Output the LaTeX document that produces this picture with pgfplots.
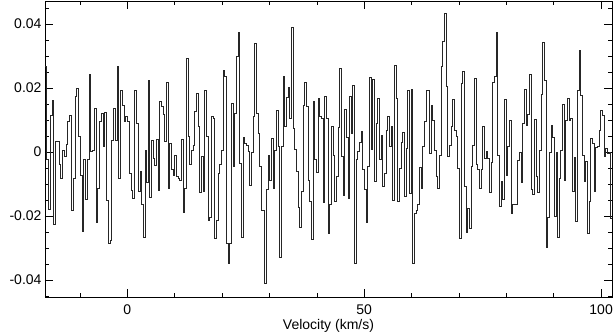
\documentclass[border=0pt]{standalone}
\usepackage{fontspec}
\setmainfont{Liberation Sans}
\usepackage{pgfplots}
\pgfplotsset{compat=1.18}
\begin{document}
\begin{tikzpicture}[x=1pt,y=1pt]
\path[use as bounding box] (-45,-36) rectangle (570,297);
\begin{axis}[at={(0,0)}, anchor=south west, scale only axis,
 width=567pt, height=296pt,
 xmin=-17.39, xmax=102.3, ymin=-0.0453, ymax=0.0472,
 xtick={0,50,100}, xticklabels={0,50,100},
 minor xtick={-10,10,20,30,40,60,70,80,90},
 ytick={-0.04,-0.02,0,0.02,0.04}, yticklabels={-0.04,-0.02,0,0.02,0.04},
 minor ytick={-0.045,-0.035,-0.03,-0.025,-0.015,-0.01,-0.005,0.005,0.01,0.015,0.025,0.03,0.035,0.045},
 scaled y ticks=false,
 tick pos=both, tick align=inside,
 major tick length=8pt, minor tick length=4pt,
 tick style={black, line width=0.6pt},
 axis line style={black, line width=0.8pt},
 tick label style={font=\fontsize{14}{16}\selectfont},
 xticklabel style={anchor=center, yshift=-13pt},
 yticklabel style={anchor=east},
 xlabel={Velocity (km/s)},
 label style={font=\fontsize{14}{16}\selectfont},
 xlabel style={at={(axis description cs:0.5,0)}, anchor=center, yshift=-29pt},
]
\addplot[const plot, black!85, line width=0.7pt] table[row sep=\\, x expr={\coordindex<54 ? -17.387+\coordindex*0.3707 : 2.634+(\coordindex-54)*0.35125}, y=v] {
v\\
0.0267\\ -0.0023\\ -0.0179\\ 0.0116\\ 0.0163\\ -0.0225\\ 0.0032\\ 0.0032\\ -0.0038\\ -0.0082\\
0.0006\\ -0.0015\\ 0.0024\\ 0.0095\\ 0.0116\\ -0.0181\\ -0.0082\\ 0.0173\\ 0.0199\\ 0.0050\\
-0.0072\\ -0.0249\\ -0.0023\\ -0.0147\\ -0.0023\\ 0.0244\\ 0.0001\\ 0.0006\\ 0.0136\\ -0.0221\\
-0.0114\\ 0.0095\\ 0.0121\\ 0.0017\\ 0.0123\\ -0.0150\\ -0.0285\\ -0.0275\\ 0.0037\\ 0.0136\\
0.0037\\ 0.0267\\ -0.0082\\ 0.0194\\ 0.0147\\ 0.0095\\ 0.0110\\ 0.0095\\ -0.0067\\ -0.0119\\
-0.0145\\ 0.0192\\ 0.0090\\ -0.0124\\
-0.0061\\ -0.0163\\ -0.0267\\ 0.0004\\ -0.0096\\ 0.0225\\ -0.0142\\ 0.0035\\ -0.0020\\ -0.0041\\
0.0040\\ -0.0121\\ 0.0157\\ 0.0144\\ 0.0119\\ 0.0032\\ 0.0217\\ -0.0114\\ 0.0027\\ -0.0054\\
-0.0072\\ -0.0009\\ -0.0077\\ -0.0082\\ -0.0088\\ 0.0040\\ -0.0188\\ -0.0114\\ 0.0293\\ 0.0048\\
-0.0038\\ 0.0006\\ 0.0022\\ 0.0126\\ 0.0183\\ 0.0079\\ -0.0127\\ -0.0013\\ -0.0124\\ 0.0192\\
0.0048\\ -0.0215\\ -0.0204\\ 0.0113\\ 0.0105\\ -0.0270\\ -0.0213\\ -0.0067\\ -0.0038\\ 0.0004\\
0.0256\\ 0.0238\\ -0.0285\\ -0.0348\\ -0.0285\\ 0.0152\\ -0.0044\\
0.0121\\ 0.0298\\ 0.0373\\ -0.0035\\ -0.0267\\ 0.0046\\ 0.0027\\ 0.0022\\ 0.0001\\ -0.0103\\
-0.0002\\ 0.0110\\ 0.0340\\ 0.0121\\ 0.0058\\ -0.0046\\ -0.0181\\ -0.0183\\ -0.0410\\ -0.0117\\
-0.0009\\ -0.0088\\ 0.0043\\ -0.0114\\ 0.0006\\ 0.0129\\ 0.0017\\ -0.0329\\ 0.0019\\ 0.0235\\
0.0081\\ 0.0171\\ 0.0202\\ 0.0105\\ 0.0390\\ 0.0074\\ 0.0008\\ -0.0061\\ -0.0173\\ -0.0235\\
-0.0124\\ 0.0147\\ 0.0217\\ 0.0144\\ -0.0088\\ -0.0155\\ -0.0273\\ 0.0157\\ -0.0023\\ -0.0065\\
0.0168\\ 0.0110\\ 0.0105\\ -0.0158\\ 0.0173\\ 0.0105\\ -0.0254\\
-0.0163\\ 0.0079\\ -0.0009\\ -0.0155\\ -0.0077\\ 0.0077\\ 0.0261\\ -0.0015\\ -0.0134\\ 0.0133\\
0.0046\\ -0.0145\\ 0.0173\\ 0.0058\\ 0.0209\\ -0.0348\\ -0.0023\\ 0.0001\\ 0.0029\\ 0.0064\\
-0.0054\\ -0.0117\\ -0.0221\\ -0.0044\\ 0.0233\\ 0.0008\\ 0.0227\\ -0.0093\\ 0.0090\\ 0.0168\\
-0.0023\\ 0.0053\\ -0.0108\\ -0.0067\\ 0.0069\\ 0.0113\\ 0.0017\\ 0.0079\\ -0.0150\\ 0.0272\\
0.0168\\ -0.0155\\ -0.0051\\ 0.0029\\ 0.0060\\ -0.0140\\ 0.0011\\ 0.0194\\ -0.0129\\ 0.0196\\
-0.0348\\ -0.0192\\ -0.0181\\ -0.0163\\ -0.0048\\ -0.0114\\ 0.0017\\
0.0095\\ 0.0192\\ 0.0194\\ -0.0004\\ 0.0147\\ 0.0100\\ 0.0006\\ -0.0075\\ -0.0114\\ -0.0009\\
0.0267\\ 0.0345\\ 0.0433\\ 0.0204\\ -0.0013\\ 0.0022\\ 0.0079\\ 0.0165\\ 0.0069\\ 0.0048\\
-0.0051\\ -0.0270\\ 0.0215\\ 0.0251\\ -0.0108\\ -0.0251\\ -0.0176\\ -0.0239\\ -0.0046\\ 0.0022\\
0.0230\\ -0.0038\\ -0.0054\\ -0.0114\\ -0.0054\\ 0.0081\\ -0.0020\\ 0.0001\\ -0.0020\\ -0.0127\\
-0.0033\\ 0.0217\\ 0.0238\\ 0.0373\\ -0.0009\\ -0.0169\\ -0.0093\\ -0.0148\\ 0.0165\\ -0.0072\\
0.0017\\ 0.0098\\ -0.0192\\ -0.0163\\ -0.0163\\ -0.0163\\ -0.0025\\
-0.0002\\ -0.0096\\ 0.0090\\ 0.0196\\ 0.0084\\ 0.0119\\ 0.0244\\ -0.0117\\ -0.0131\\ 0.0102\\
-0.0077\\ -0.0127\\ 0.0006\\ 0.0181\\ 0.0342\\ 0.0223\\ -0.0298\\ -0.0204\\ -0.0002\\ 0.0084\\
0.0046\\ -0.0202\\ -0.0002\\ -0.0267\\ -0.0082\\ 0.0004\\ 0.0150\\ -0.0088\\ 0.0100\\ 0.0168\\
0.0098\\ 0.0105\\ -0.0124\\ -0.0017\\ -0.0218\\ 0.0194\\ 0.0317\\ 0.0178\\ -0.0009\\ -0.0093\\
-0.0030\\ -0.0254\\ -0.0155\\ 0.0043\\ 0.0027\\ -0.0124\\ 0.0015\\ 0.0017\\ 0.0069\\ 0.0131\\
0.0116\\ -0.0015\\ 0.0011\\ -0.0004\\ -0.0002\\ -0.0207\\ -0.0015\\
};
\end{axis}
\end{tikzpicture}
\end{document}
